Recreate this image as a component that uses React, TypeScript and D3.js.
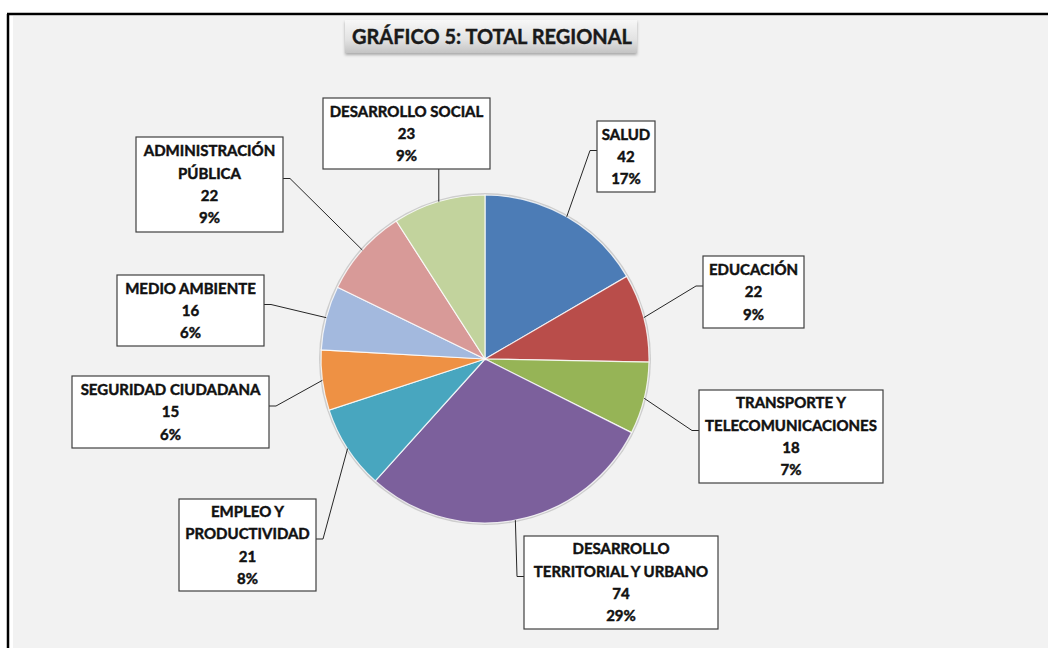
import React from "react";
import * as d3 from "d3";

// datos del gráfico
const categories = [
  "SALUD",
  "EDUCACIÓN",
  "TRANSPORTE Y TELECOMUNICACIONES",
  "DESARROLLO TERRITORIAL Y URBANO",
  "EMPLEO Y PRODUCTIVIDAD",
  "SEGURIDAD CIUDADANA",
  "MEDIO AMBIENTE",
  "ADMINISTRACIÓN PÚBLICA",
  "DESARROLLO SOCIAL",
];
const values = [42, 22, 18, 74, 21, 15, 16, 22, 23];
const labelLines = [
  ["SALUD"],
  ["EDUCACIÓN"],
  ["TRANSPORTE Y", "TELECOMUNICACIONES"],
  ["DESARROLLO", "TERRITORIAL Y URBANO"],
  ["EMPLEO Y", "PRODUCTIVIDAD"],
  ["SEGURIDAD CIUDADANA"],
  ["MEDIO AMBIENTE"],
  ["ADMINISTRACIÓN", "PÚBLICA"],
  ["DESARROLLO SOCIAL"],
];
const colors = [
  "#4f81bd", "#c0504d", "#9bbb59", "#8064a2", "#4bacc6",
  "#f79646", "#a9c0e6", "#e0a09e", "#c9dba3",
];
const title = "GRÁFICO 5: TOTAL REGIONAL";

// cajas de etiquetas (layout)
const boxes = [
  { x: 597, y: 121, w: 58, h: 71, side: "left" },
  { x: 703, y: 256, w: 101, h: 72, side: "left" },
  { x: 699, y: 390, w: 184, h: 93, side: "left" },
  { x: 524, y: 536, w: 194, h: 93, side: "left" },
  { x: 179, y: 499, w: 137, h: 92, side: "right" },
  { x: 72, y: 376, w: 197, h: 72, side: "right" },
  { x: 117, y: 275, w: 147, h: 71, side: "right" },
  { x: 136, y: 137, w: 147, h: 95, side: "right" },
  { x: 323, y: 98, w: 167, h: 71, side: "bottom" },
];

export default function App() {
  const width = 1048;
  const height = 648;
  const cx = 485;
  const cy = 359;
  const r = 164;

  const total = d3.sum(values);
  const pct = d3.format(".0%");
  const pie = d3.pie<number>().sort(null).value(d => d)(values);
  const arc = d3.arc<d3.PieArcDatum<number>>().innerRadius(0).outerRadius(r);

  return (
    <svg width={width} height={height} style={{ position: "absolute", left: 0, top: 0, display: "block" }}
      fontFamily="Lato, 'Open Sans', sans-serif">
      <defs>
        <linearGradient id="titleGrad" x1="0" y1="0" x2="0" y2="1">
          <stop offset="0%" stopColor="#f7f7f7" />
          <stop offset="60%" stopColor="#e2e2e2" />
          <stop offset="100%" stopColor="#c4c4c4" />
        </linearGradient>
        <filter id="shadow" x="-10%" y="-20%" width="120%" height="160%">
          <feDropShadow dx="0" dy="2" stdDeviation="1.5" floodColor="#000" floodOpacity="0.3" />
        </filter>
        {colors.map((c, i) => (
          <radialGradient key={i} id={"sg" + i} gradientUnits="userSpaceOnUse" cx={cx} cy={cy} r={r}>
            <stop offset="0%" stopColor={d3.color(c)!.brighter(0.3).formatHex()} />
            <stop offset="75%" stopColor={c} />
            <stop offset="100%" stopColor={d3.color(c)!.darker(0.1).formatHex()} />
          </radialGradient>
        ))}
      </defs>

      <rect width={width} height={height} fill="#ffffff" />
      <rect x={13} y={16} width={width} height={height} fill="#f2f2f2" />
      <line x1={8} y1={14} x2={8} y2={height} stroke="#000" strokeWidth={2.5} />
      <line x1={7} y1={14} x2={width} y2={14} stroke="#000" strokeWidth={2.5} />

      {/* titulo */}
      <rect x={345} y={20} width={292} height={33} fill="url(#titleGrad)" filter="url(#shadow)" />
      <text x={492} y={44} textAnchor="middle" fontSize={21} fontWeight={700} fill="#1a1a1a"
        stroke="#1a1a1a" strokeWidth={0.4} textLength={280} lengthAdjust="spacingAndGlyphs">{title}</text>

      {/* torta */}
      <circle cx={cx} cy={cy} r={r + 2} fill="#cdcdcd" />
      <g transform={`translate(${cx},${cy})`}>
        {pie.map((d, i) => (
          <path key={i} d={arc(d) ?? ""} fill={`url(#sg${i})`} stroke="#ffffff" strokeWidth={1.2} strokeOpacity={0.8} />
        ))}
      </g>

      {/* etiquetas */}
      {pie.map((d, i) => {
        const b = boxes[i];
        const mid = (d.startAngle + d.endAngle) / 2;
        const px = cx + r * Math.sin(mid);
        const py = cy - r * Math.cos(mid);
        let pts: [number, number][];
        if (b.side === "bottom") {
          pts = [[px, b.y + b.h], [px, py]];
        } else {
          const ay = b.y + b.h / 2 - 6;
          const ax = b.side === "left" ? b.x : b.x + b.w;
          const sx = b.side === "left" ? ax - 7 : ax + 7;
          pts = [[ax, ay], [sx, ay], [px, py]];
        }
        const lines = [...labelLines[i], String(values[i]), pct(values[i] / total)];
        const lh = 22.3;
        const y0 = b.y + b.h / 2 - ((lines.length - 1) * lh) / 2;
        return (
          <g key={categories[i]}>
            <path d={d3.line()(pts) ?? ""} fill="none" stroke="#262626" strokeWidth={1} />
            <rect x={b.x} y={b.y} width={b.w} height={b.h} fill="#ffffff" stroke="#404040" strokeWidth={1.2} />
            {lines.map((t, j) => (
              <text key={j} x={b.x + b.w / 2} y={y0 + j * lh} dy="0.36em" textAnchor="middle"
                fontSize={15} fontWeight={700} fill="#111" stroke="#111" strokeWidth={0.45}>{t}</text>
            ))}
          </g>
        );
      })}
    </svg>
  );
}
